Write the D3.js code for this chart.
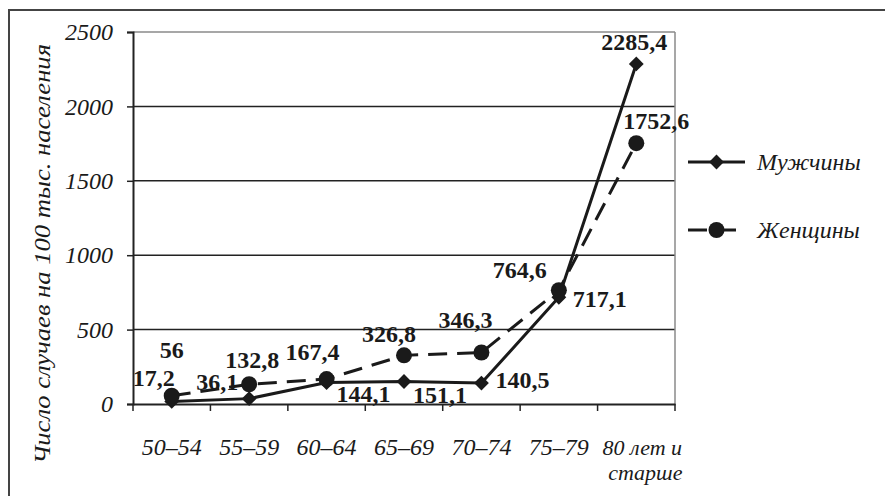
<!DOCTYPE html>
<html>
<head>
<meta charset="utf-8">
<script src="https://cdn.jsdelivr.net/npm/d3@7"></script>
<style>
  body { margin: 0; background: #fff; }
  svg text { font-family: "Liberation Serif", "Times New Roman", serif; fill: #1a1a1a; }
</style>
</head>
<body>
<div id="chart"></div>
<script>
// age groups and rates per 100k
const categories = ["50–54", "55–59", "60–64", "65–69", "70–74", "75–79", "80 лет и|старше"];
const men = [17.2, 36.1, 144.1, 151.1, 140.5, 717.1, 2285.4];
const women = [56, 132.8, 167.4, 326.8, 346.3, 764.6, 1752.6];
const yTicks = [0, 500, 1000, 1500, 2000, 2500];
const seriesNames = ["Мужчины", "Женщины"];

// label offsets from the point (dx, dy to baseline)
const menLabelOff = [[-18, -15], [-32, -9], [37, 19], [36, 21], [41, 5], [41, 10], [-2, -14]];
const womenLabelOff = [[0, -38], [3, -16], [-14, -19], [-15, -13], [-16, -24], [-39, -12], [20, -14]];

const width = 885, height = 496;
const plot = { left: 133, right: 675, top: 32, bottom: 404 };

const svg = d3.select("#chart").append("svg")
    .attr("width", width)
    .attr("height", height);

// outer frame (only top and left edges are in the picture)
svg.append("path")
    .attr("d", "M9,496V10H885")
    .attr("fill", "none")
    .attr("stroke", "#444")
    .attr("stroke-width", 2);

const x = d3.scaleBand().domain(categories).range([plot.left, plot.right]);
const y = d3.scaleLinear().domain([0, 2500]).range([plot.bottom, plot.top]);

// gridlines
svg.append("g")
    .selectAll("line")
    .data(yTicks.slice(1))
    .enter().append("line")
    .attr("x1", plot.left).attr("x2", plot.right)
    .attr("y1", d => y(d)).attr("y2", d => y(d))
    .attr("stroke", d => d === 2500 ? "#8a8a8a" : "#222")
    .attr("stroke-width", 1.5);

// right border of the plot area
svg.append("line")
    .attr("x1", plot.right).attr("x2", plot.right)
    .attr("y1", plot.top).attr("y2", plot.bottom)
    .attr("stroke", "#8a8a8a").attr("stroke-width", 1.5);

// y axis
const yaxis = d3.axisLeft(y).tickValues(yTicks).tickSize(6).tickPadding(14).tickFormat(d3.format("d"));
const gy = svg.append("g")
    .attr("transform", "translate(" + plot.left + ",0)")
    .call(yaxis);
gy.select(".domain").attr("stroke", "#222").attr("stroke-width", 2);
gy.selectAll(".tick line").attr("stroke", "#222").attr("stroke-width", 1.5);
gy.selectAll(".tick text")
    .style("font-size", "24px")
    .style("font-style", "italic")
    .attr("dy", "0.32em");

// x axis
const xaxis = d3.axisBottom(x).tickSize(0).tickFormat("");
const gx = svg.append("g")
    .attr("transform", "translate(0," + plot.bottom + ")")
    .call(xaxis);
gx.select(".domain").attr("stroke", "#222").attr("stroke-width", 2);

// tick marks at band edges
svg.append("g")
    .selectAll("line")
    .data(categories.map(c => x(c)).concat([plot.right]))
    .enter().append("line")
    .attr("x1", d => d).attr("x2", d => d)
    .attr("y1", plot.bottom).attr("y2", plot.bottom + 7)
    .attr("stroke", "#222").attr("stroke-width", 1.5);

// x labels
const xl = svg.append("g").selectAll("text")
    .data(categories)
    .enter().append("text")
    .style("font-size", "24px")
    .style("font-style", "italic")
    .attr("text-anchor", "middle");
xl.each(function (d) {
    const parts = d.split("|");
    const t = d3.select(this);
    const mid = x(d) + x.bandwidth() / 2;
    if (parts.length === 1) {
        t.attr("x", mid).attr("y", 455).text(d);
    } else {
        // wrapped label sits a little right of the band centre
        t.style("font-size", "22px");
        parts.forEach((p, i) => {
            t.append("tspan")
                .attr("x", mid + 6 + i * 3)
                .attr("y", 455 + i * 25)
                .text(p);
        });
    }
});

// y title
svg.append("text")
    .attr("transform", "translate(50,254) rotate(-90)")
    .attr("text-anchor", "middle")
    .attr("textLength", 420)
    .attr("lengthAdjust", "spacingAndGlyphs")
    .style("font-size", "23px")
    .style("font-style", "italic")
    .text("Число случаев на 100 тыс. населения");

const cx = (d, i) => x(categories[i]) + x.bandwidth() / 2;

const line = d3.line()
    .x((d, i) => cx(d, i))
    .y(d => y(d));

// women (dashed)
svg.append("path")
    .attr("d", line(women))
    .attr("fill", "none")
    .attr("stroke", "#1a1a1a")
    .attr("stroke-width", 3)
    .attr("stroke-dasharray", "19,10");

// men (solid)
svg.append("path")
    .attr("d", line(men))
    .attr("fill", "none")
    .attr("stroke", "#1a1a1a")
    .attr("stroke-width", 3);

const diamond = d3.symbol().type(d3.symbolSquare).size(110);

svg.append("g").selectAll("path")
    .data(men)
    .enter().append("path")
    .attr("d", diamond)
    .attr("transform", (d, i) => "translate(" + cx(d, i) + "," + y(d) + ") rotate(45)")
    .attr("fill", "#1a1a1a");

svg.append("g").selectAll("circle")
    .data(women)
    .enter().append("circle")
    .attr("cx", (d, i) => cx(d, i))
    .attr("cy", d => y(d))
    .attr("r", 8)
    .attr("fill", "#1a1a1a");

const fmt = v => String(v).replace(".", ",");

function labels(data, offs) {
    svg.append("g").selectAll("text")
        .data(data)
        .enter().append("text")
        .attr("x", (d, i) => cx(d, i) + offs[i][0])
        .attr("y", (d, i) => y(d) + offs[i][1])
        .attr("text-anchor", "middle")
        .style("font-size", "24px")
        .style("font-weight", "bold")
        .text(fmt);
}
labels(men, menLabelOff);
labels(women, womenLabelOff);

// legend
const legend = svg.append("g");
const legY = [162, 230];
legend.append("line")
    .attr("x1", 688).attr("x2", 745)
    .attr("y1", legY[0]).attr("y2", legY[0])
    .attr("stroke", "#1a1a1a").attr("stroke-width", 3);
legend.append("path")
    .attr("d", diamond)
    .attr("transform", "translate(716.5," + legY[0] + ") rotate(45)")
    .attr("fill", "#1a1a1a");
legend.append("line")
    .attr("x1", 688).attr("x2", 745)
    .attr("y1", legY[1]).attr("y2", legY[1])
    .attr("stroke", "#1a1a1a").attr("stroke-width", 3)
    .attr("stroke-dasharray", "19,10");
legend.append("circle")
    .attr("cx", 716.5).attr("cy", legY[1]).attr("r", 8)
    .attr("fill", "#1a1a1a");
legend.selectAll("text")
    .data(seriesNames)
    .enter().append("text")
    .attr("x", 757)
    .attr("y", (d, i) => legY[i] + 8)
    .style("font-size", "24px")
    .style("font-style", "italic")
    .text(d => d);
</script>
</body>
</html>
